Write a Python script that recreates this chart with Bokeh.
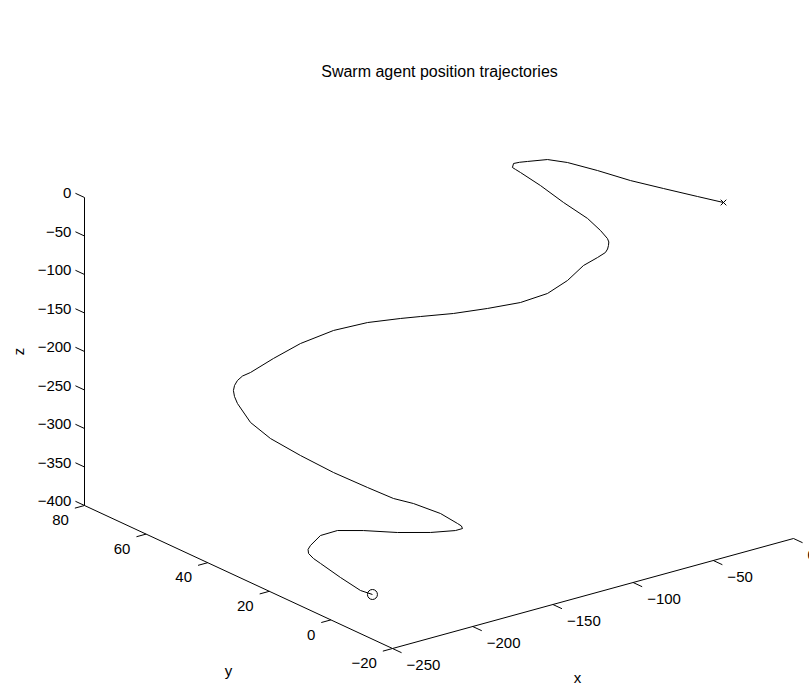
import numpy as np
from bokeh.plotting import figure
from bokeh.models import Range1d
from bokeh.core.properties import value
from bokeh.embed import file_html
from bokeh.resources import INLINE

# ---------------- data ----------------
title_text = "Swarm agent position trajectories"

traj_x = [-224.1, -225.8, -230.6, -233.4, -234.0, -233.2, -231.6, -228.2, -218.1, -205.6,
          -189.4, -170.1, -151.4, -137.8, -133.4, -133.1, -134.6, -139.4, -148.6, -155.3,
          -163.8, -175.4, -186.4, -197.4, -204.1, -208.4, -209.3, -209.0, -208.3, -206.5,
          -204.3, -200.3, -187.9, -174.9, -158.1, -140.8, -124.0, -113.5, -96.8, -79.4,
          -62.7, -49.7, -39.1, -31.1, -22.3, -17.4, -15.1, -13.6, -12.4, -12.3,
          -12.8, -15.1, -22.4, -29.1, -35.8, -37.9, -38.9, -38.2, -35.4, -31.4,
          -22.8, -18.0, -14.7, -11.4, -8.1, -4.2, -1.4]
traj_y = [0, 3, 7, 12, 14, 16, 17, 18, 20, 21,
          21, 20, 19, 18, 18, 18.5, 19, 22, 26, 29,
          33, 38, 43, 47, 50, 52, 52.5, 53, 53, 53,
          52.5, 52, 51, 49, 47, 45, 43, 42, 40, 38,
          36, 34, 33, 32, 32, 32, 32.5, 33, 33.5, 34,
          36, 39, 43, 47, 50, 50.5, 51, 51, 50.5, 50,
          48, 44, 36, 27, 18, 9, 2]
traj_z = [-381.8, -381.2, -369.0, -358.5, -355.4, -353.1, -350.6, -349.3, -345.8, -348.3,
          -357.6, -369.3, -378.1, -381.5, -381.4, -379.2, -376.0, -365.9, -355.1, -350.3,
          -338.6, -321.8, -302.7, -281.8, -262.7, -239.3, -230.6, -224.0, -217.8, -212.4,
          -206.9, -203.7, -190.7, -175.0, -163.9, -159.8, -160.4, -162.0, -163.9, -163.6,
          -161.7, -153.7, -141.0, -124.3, -118.9, -115.2, -112.9, -110.2, -107.2, -103.7,
          -96.7, -85.3, -67.8, -49.4, -34.2, -30.0, -27.8, -23.0, -22.1, -22.4,
          -21.1, -20.3, -17.7, -15.9, -11.4, -7.3, -3.7]

x_ticks = [-250, -200, -150, -100, -50, 0]
y_ticks = [-20, 0, 20, 40, 60, 80]
z_ticks = [-400, -350, -300, -250, -200, -150, -100, -50, 0]

XLIM = (-250, 0)
YLIM = (-20, 80)
ZLIM = (-400, 0)

# ---------------- layout (page-pixel view of the 3-D box) ----------------
P_ORIGIN = np.array([392.0, 648.0])   # (xmin, ymin, zmin)
P_XEND = np.array([793.0, 538.0])     # (xmax, ymin, zmin)
P_YEND = np.array([84.0, 505.0])      # (xmin, ymax, zmin)
Z_PIX = 308.0                         # vertical pixels of full z range
TICK_LEN = 10.0

EX = (P_XEND - P_ORIGIN) / (XLIM[1] - XLIM[0])
EY = (P_YEND - P_ORIGIN) / (YLIM[1] - YLIM[0])
EZ = np.array([0.0, -Z_PIX / (ZLIM[1] - ZLIM[0])])


def proj(x, y, z):
    x = np.asarray(x, float)
    y = np.asarray(y, float)
    z = np.asarray(z, float)
    px = P_ORIGIN[0] + (x - XLIM[0]) * EX[0] + (y - YLIM[0]) * EY[0] + (z - ZLIM[0]) * EZ[0]
    py = P_ORIGIN[1] + (x - XLIM[0]) * EX[1] + (y - YLIM[0]) * EY[1] + (z - ZLIM[0]) * EZ[1]
    return px, py


def unit(v):
    return v / np.linalg.norm(v)


def fmt(v):
    return str(v).replace("-", "\u2212")


W, H = 809, 689
p = figure(width=W, height=H, x_range=Range1d(0, W), y_range=Range1d(H, 0),
           output_backend="svg", toolbar_location=None, min_border=0)
p.axis.visible = False
p.grid.visible = False
p.outline_line_color = None
p.background_fill_color = "white"
p.border_fill_color = "white"

FONT = value("Liberation Sans")
FS = "15px"
INK = "black"

# axis lines
ax_x = proj(XLIM, [YLIM[0]] * 2, [ZLIM[0]] * 2)
ax_y = proj([XLIM[0]] * 2, YLIM, [ZLIM[0]] * 2)
ax_z = proj([XLIM[0]] * 2, [YLIM[1]] * 2, ZLIM)
for ax in (ax_x, ax_y, ax_z):
    p.line(ax[0], ax[1], line_color=INK, line_width=1)

# z ticks (point toward +y)
dz = unit(EY) * TICK_LEN
zx, zy = proj([XLIM[0]] * len(z_ticks), [YLIM[1]] * len(z_ticks), z_ticks)
p.segment(zx, zy, zx + dz[0], zy + dz[1], line_color=INK, line_width=1)
p.text(zx + dz[0] - 4, zy + dz[1], text=[fmt(v) for v in z_ticks], text_font=FONT,
       text_font_size=FS, text_color=INK, text_align="right", text_baseline="middle")

# y ticks (point toward -x)
dyv = -unit(EX) * TICK_LEN
yx, yy = proj([XLIM[0]] * len(y_ticks), y_ticks, [ZLIM[0]] * len(y_ticks))
p.segment(yx, yy, yx + dyv[0], yy + dyv[1], line_color=INK, line_width=1)
p.text(yx + dyv[0] - 6, yy + dyv[1] + 12, text=[fmt(v) for v in y_ticks], text_font=FONT,
       text_font_size=FS, text_color=INK, text_align="right", text_baseline="middle")

# x ticks (point toward -y)
dxv = -unit(EY) * TICK_LEN
xx, xy = proj(x_ticks, [YLIM[0]] * len(x_ticks), [ZLIM[0]] * len(x_ticks))
p.segment(xx, xy, xx + dxv[0], xy + dxv[1], line_color=INK, line_width=1)
p.text(xx + dxv[0] + 5, xy + dxv[1] + 12, text=[fmt(v) for v in x_ticks], text_font=FONT,
       text_font_size=FS, text_color=INK, text_align="left", text_baseline="middle")

# axis titles and title
p.text([577], [677], text=["x"], text_font=FONT, text_font_size=FS, text_color=INK,
       text_align="center", text_baseline="middle")
p.text([228], [670], text=["y"], text_font=FONT, text_font_size=FS, text_color=INK,
       text_align="center", text_baseline="middle")
p.text([18], [351], text=["z"], text_font=FONT, text_font_size=FS, text_color=INK,
       text_align="center", text_baseline="middle", angle=np.pi / 2)
p.text([439], [71], text=[title_text], text_font=FONT, text_font_size="16px", text_color=INK,
       text_align="center", text_baseline="middle")

# trajectory
tx, ty = proj(traj_x, traj_y, traj_z)
p.line(tx, ty, line_color=INK, line_width=1)
p.scatter(tx[:1], ty[:1], marker="circle", size=10, fill_color=None, line_color=INK, line_width=1)
p.scatter(tx[-1:], ty[-1:], marker="x", size=8, line_color=INK, line_width=1)

open("out.html", "w").write(file_html(p, INLINE))
